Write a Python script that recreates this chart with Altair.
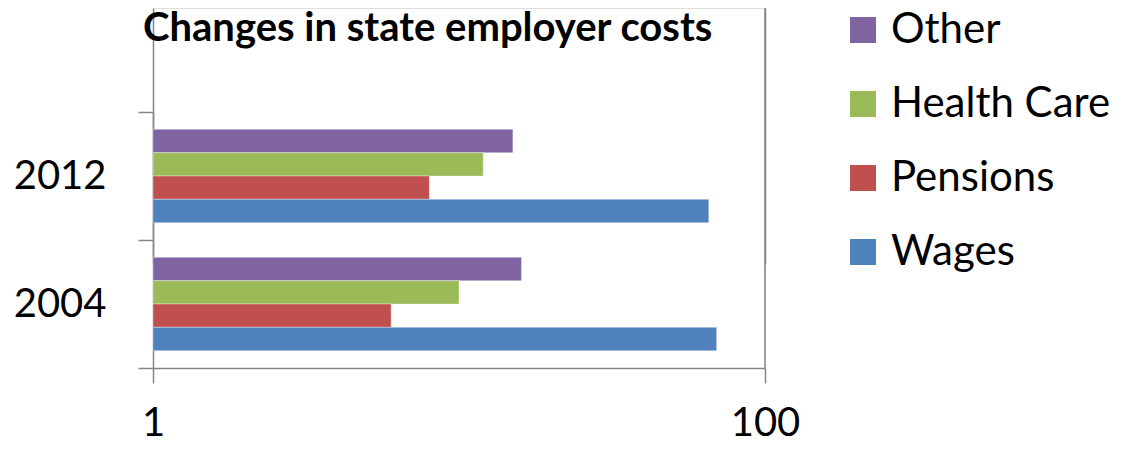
import altair as alt
import pandas as pd

years = ["2012", "2004"]
series = ["Other", "Health Care", "Pensions", "Wages"]
values_2012 = [15, 12, 8, 65.5]
values_2004 = [16, 10, 6, 69.5]
colors = ["#8064A2", "#9BBB59", "#C0504D", "#4F81BD"]
x_ticks = [1, 100]
title_text = "Changes in state employer costs"

rows = []
for s, v in zip(series, values_2012):
    rows.append({"year": "2012", "series": s, "value": v})
for s, v in zip(series, values_2004):
    rows.append({"year": "2004", "series": s, "value": v})
df = pd.DataFrame(rows)
title_df = pd.DataFrame({"t": [title_text]})
edge_df = pd.DataFrame({"edge": [x_ticks[-1]]})

axis_color = "#868686"
FONT = "Lato"

bars = alt.Chart(df).mark_bar(stroke="#ffffff", strokeOpacity=0.35, strokeWidth=1).encode(
    y=alt.Y(
        "year:N",
        scale=alt.Scale(domain=years, range=[104, 360], paddingInner=0, paddingOuter=0),
        axis=alt.Axis(
            title=None, tickBand="extent", tickSize=15, tickColor=axis_color, tickWidth=1.5,
            domainColor=axis_color, domainWidth=1.5, labelFontSize=40, labelPadding=32,
            labelColor="black", labelFont=FONT,
        ),
    ),
    yOffset=alt.YOffset(
        "series:N",
        scale=alt.Scale(domain=series, paddingInner=0, paddingOuter=0.745),
    ),
    x=alt.X(
        "value:Q",
        scale=alt.Scale(type="log", domain=[1, 100]),
        axis=alt.Axis(
            title=None, values=x_ticks, format="d", tickSize=15, tickColor=axis_color,
            tickWidth=1.5, domainColor=axis_color, domainWidth=1.5, grid=True,
            gridColor=axis_color, gridWidth=1.5, labelFontSize=40, labelPadding=20,
            labelColor="black", labelFont=FONT, labelFlush=False,
        ),
    ),
    x2=alt.datum(1),
    color=alt.Color(
        "series:N",
        scale=alt.Scale(domain=series, range=colors),
        sort=series,
        legend=alt.Legend(
            title=None, orient="none", legendX=689, legendY=1, symbolType="square",
            symbolSize=676, symbolStrokeWidth=0, labelFontSize=42, labelFont=FONT,
            labelColor="black", labelOffset=7, rowPadding=32, padding=0, labelLimit=0,
        ),
    ),
)

edge = alt.Chart(edge_df).mark_rule(color=axis_color, strokeWidth=1.5).encode(
    x=alt.X("edge:Q"),
)

title = alt.Chart(title_df).mark_text(
    align="left", baseline="top", fontSize=40, fontWeight="bold", font=FONT, color="black",
).encode(
    text="t:N",
    x=alt.value(-10),
    y=alt.value(1),
)

chart = alt.layer(bars, edge, title).properties(
    width=612,
    height=360,
    autosize=alt.AutoSizeParams(type="none"),
    padding={"left": 145, "top": 0, "right": 349, "bottom": 73},
).configure_view(stroke=None).configure(font=FONT)

chart.save("out.html", embed_options={"renderer": "svg", "actions": False})
